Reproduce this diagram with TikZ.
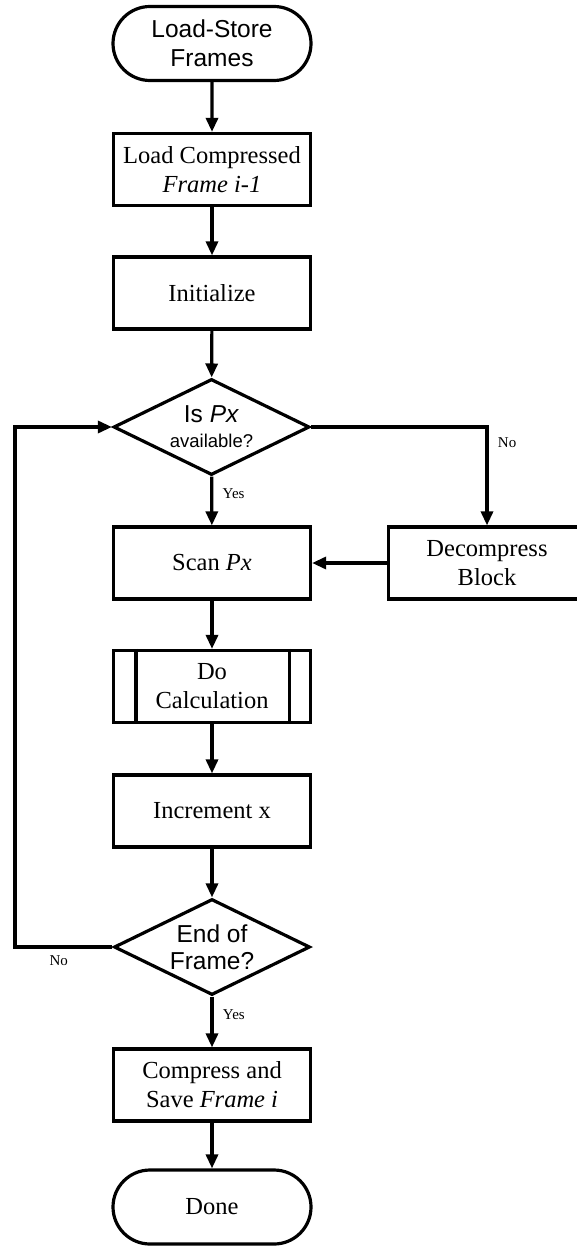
\documentclass[tikz,border=0pt]{standalone}
\usepackage{fontspec}
\setmainfont{Liberation Serif}
\setsansfont{Liberation Sans}
\usetikzlibrary{shapes.geometric,shapes.misc,arrows.meta}

\begin{document}
\begin{tikzpicture}
[
x=1pt,y=-1pt,
line width=3.2pt,
big/.style={font=\fontsize{24.5}{29}\selectfont},
terminal/.style={draw,rounded rectangle,minimum width=198pt,minimum height=74pt,inner sep=0pt,align=center,big,font=\sffamily\fontsize{24.5}{29}\selectfont},
process/.style={draw,rectangle,minimum width=197pt,minimum height=72pt,inner sep=0pt,align=center,big},
decision/.style={draw,diamond,shape aspect=2,minimum width=196pt,minimum height=96pt,inner sep=0pt,align=center,font=\sffamily\fontsize{24.5}{27}\selectfont},
flow/.style={-{Triangle[length=14pt,width=12pt]}},
yesno/.style={font=\fontsize{15}{15}\selectfont},
]
\useasboundingbox (0,0) rectangle (577,1246);

%Place the nodes
\node[terminal] (start) at (212,43.5) {Load-Store\\Frames};
\node[process] (load) at (212,169.5) {Load Compressed\\\textit{Frame i-1}};
\node[process] (init) at (212,293) {Initialize};
\node[decision] (avail) at (211.5,427) {Is \textit{Px}\\[-2pt]{\fontsize{18.5}{18.5}\selectfont available?}};
\node[process] (scan) at (212,563) {Scan \textit{Px}};
\node[process] (decomp) at (487,563) {Decompress\\Block};
\node[process] (calc) at (212,686.5) {Do\\Calculation};
\node[process] (incr) at (212,811) {Increment x};
\node[decision] (endf) at (212,947) {End of\\Frame?};
\node[process] (save) at (212,1085) {Compress and\\Save \textit{Frame i}};
\node[terminal,font=\fontsize{24.5}{29}\selectfont] (done) at (212,1207) {Done};
\coordinate (back) at (15,947);

%Subroutine bars
\draw ([xshift=24pt]calc.north west) -- ([xshift=24pt]calc.south west);
\draw ([xshift=-23pt]calc.north east) -- ([xshift=-23pt]calc.south east);

%Draw the connections
\draw[flow] (start) -- (load);
\draw[flow] (load) -- (init);
\draw[flow] (init) -- (avail);
\draw[flow] (avail) -- node[yesno,right=6pt,pos=0.35] {Yes} (scan);
\draw[flow] (avail.east) -| node[yesno,right=6pt,pos=0.58] {No} (decomp.north);
\draw[flow] (decomp) -- (scan);
\draw[flow] (scan) -- (calc);
\draw[flow] (calc) -- (incr);
\draw[flow] (incr) -- (endf);
\draw[flow] (endf.west) -- node[yesno,below=4pt,pos=0.55] {No} (back) |- (avail.west);
\draw[flow] (endf) -- node[yesno,right=6pt,pos=0.35] {Yes} (save);
\draw[flow] (save) -- (done);
\end{tikzpicture}
\end{document}
